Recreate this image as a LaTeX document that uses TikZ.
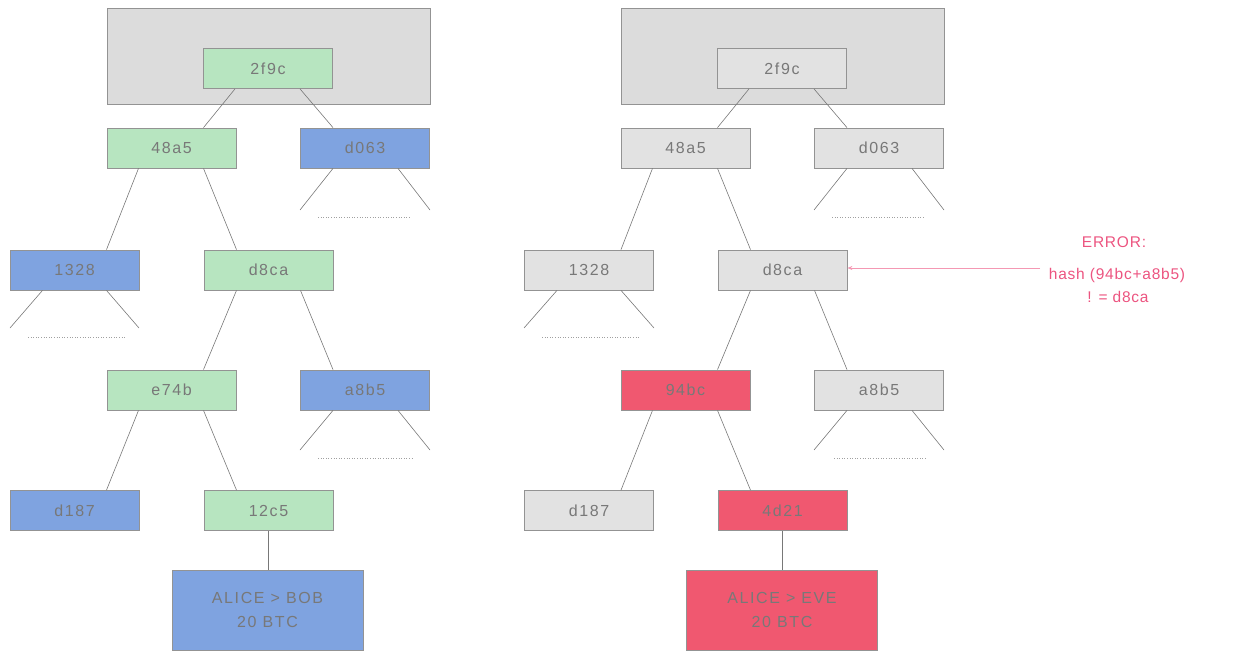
\documentclass[tikz,border=0pt]{standalone}
\usepackage{fontspec}
\setmainfont{Liberation Sans}
\newfontfamily\spaced[LetterSpace=10]{Liberation Sans}
\newfontfamily\spacedb[LetterSpace=5]{Liberation Sans}
\usetikzlibrary{arrows.meta}
\definecolor{grn}{RGB}{183,229,192}
\definecolor{blu}{RGB}{127,163,224}
\definecolor{gry}{RGB}{226,226,226}
\definecolor{bgg}{RGB}{220,220,220}
\definecolor{rd}{RGB}{240,88,112}
\definecolor{pk}{RGB}{236,84,128}
\definecolor{txt}{RGB}{120,120,120}
\definecolor{edge}{RGB}{120,120,120}
\begin{document}
\begin{tikzpicture}[x=1pt,y=-1pt,
  hbox/.style={draw=edge!80,line width=0.8pt,minimum width=129pt,minimum height=40pt,inner sep=0pt,text=txt,font=\spaced\fontsize{16}{18}\selectfont},
  big/.style={hbox,minimum width=191pt,minimum height=80pt,align=center,font=\spaced\fontsize{16}{24}\selectfont},
  g/.style={hbox,fill=grn},
  b/.style={hbox,fill=blu},
  w/.style={hbox,fill=gry},
  r/.style={hbox,fill=rd},
  link/.style={draw=edge,line width=0.6pt},
  dots/.style={draw=edge!70,line width=0.6pt,dotted},
  note/.style={text=pk,font=\spacedb\fontsize{15.5}{17}\selectfont,inner sep=0pt},
  panel/.style={draw=edge!80,line width=0.8pt,fill=bgg}]
\useasboundingbox (0,0) rectangle (1243,653);
% ---------------- left tree ----------------
\node[panel,minimum width=323pt,minimum height=96pt,inner sep=0pt] (Lpanel) at (268.5,56) {};
\node[g] (L2f9c) at (268,68.5) {2f9c};
\node[g] (L48a5) at (171.5,148) {48a5};
\node[b] (Ld063) at (365,148) {d063};
\node[b] (L1328) at (74.5,270) {1328};
\node[g] (Ld8ca) at (268.5,270) {d8ca};
\node[g] (Le74b) at (171.5,390) {e74b};
\node[b] (La8b5) at (365,390) {a8b5};
\node[b] (Ld187) at (74.5,510.5) {d187};
\node[g] (L12c5) at (268.5,510.5) {12c5};
\node[big,fill=blu] (Ltx) at (267.5,610) {ALICE > BOB\\20 BTC};
\coordinate (Ld063a) at (300,210); \coordinate (Ld063b) at (430,210);
\coordinate (L1328a) at (10,328); \coordinate (L1328b) at (139,328);
\coordinate (La8b5a) at (300,450); \coordinate (La8b5b) at (430,450);
\draw[link] ([xshift=-33pt]L2f9c.south) -- ([xshift=32pt]L48a5.north);
\draw[link] ([xshift=32pt]L2f9c.south) -- ([xshift=-32pt]Ld063.north);
\draw[link] ([xshift=-33pt]L48a5.south) -- ([xshift=32pt]L1328.north);
\draw[link] ([xshift=32pt]L48a5.south) -- ([xshift=-32pt]Ld8ca.north);
\draw[link] ([xshift=-32pt]Ld063.south) -- (Ld063a);
\draw[link] ([xshift=33pt]Ld063.south) -- (Ld063b);
\draw[dots] (318,217) -- (410,217);
\draw[link] ([xshift=-32pt]L1328.south) -- (L1328a);
\draw[link] ([xshift=32pt]L1328.south) -- (L1328b);
\draw[dots] (28,337) -- (125,337);
\draw[link] ([xshift=-32pt]Ld8ca.south) -- ([xshift=32pt]Le74b.north);
\draw[link] ([xshift=32pt]Ld8ca.south) -- ([xshift=-32pt]La8b5.north);
\draw[link] ([xshift=-32pt]La8b5.south) -- (La8b5a);
\draw[link] ([xshift=33pt]La8b5.south) -- (La8b5b);
\draw[dots] (318,458) -- (412,458);
\draw[link] ([xshift=-33pt]Le74b.south) -- ([xshift=32pt]Ld187.north);
\draw[link] ([xshift=32pt]Le74b.south) -- ([xshift=-32pt]L12c5.north);
\draw[link] (L12c5.south) -- (L12c5.south |- Ltx.north);
% ---------------- right tree ----------------
\node[panel,minimum width=323pt,minimum height=96pt,inner sep=0pt] (Rpanel) at (782.5,56) {};
\node[w] (R2f9c) at (782,68.5) {2f9c};
\node[w] (R48a5) at (685.5,148) {48a5};
\node[w] (Rd063) at (879,148) {d063};
\node[w] (R1328) at (589,270) {1328};
\node[w] (Rd8ca) at (782.5,270) {d8ca};
\node[r] (R94bc) at (685.5,390) {94bc};
\node[w] (Ra8b5) at (879,390) {a8b5};
\node[w] (Rd187) at (589,510.5) {d187};
\node[r] (R4d21) at (782.5,510.5) {4d21};
\node[big,fill=rd] (Rtx) at (782,610) {ALICE > EVE\\20 BTC};
\coordinate (Rd063a) at (814,210); \coordinate (Rd063b) at (944,210);
\coordinate (R1328a) at (524,328); \coordinate (R1328b) at (654,328);
\coordinate (Ra8b5a) at (814,450); \coordinate (Ra8b5b) at (944,450);
\draw[link] ([xshift=-33pt]R2f9c.south) -- ([xshift=32pt]R48a5.north);
\draw[link] ([xshift=32pt]R2f9c.south) -- ([xshift=-32pt]Rd063.north);
\draw[link] ([xshift=-33pt]R48a5.south) -- ([xshift=32pt]R1328.north);
\draw[link] ([xshift=32pt]R48a5.south) -- ([xshift=-32pt]Rd8ca.north);
\draw[link] ([xshift=-32pt]Rd063.south) -- (Rd063a);
\draw[link] ([xshift=33pt]Rd063.south) -- (Rd063b);
\draw[dots] (832,217) -- (924,217);
\draw[link] ([xshift=-32pt]R1328.south) -- (R1328a);
\draw[link] ([xshift=32pt]R1328.south) -- (R1328b);
\draw[dots] (542,337) -- (640,337);
\draw[link] ([xshift=-32pt]Rd8ca.south) -- ([xshift=32pt]R94bc.north);
\draw[link] ([xshift=32pt]Rd8ca.south) -- ([xshift=-32pt]Ra8b5.north);
\draw[link] ([xshift=-32pt]Ra8b5.south) -- (Ra8b5a);
\draw[link] ([xshift=33pt]Ra8b5.south) -- (Ra8b5b);
\draw[dots] (834,458) -- (926,458);
\draw[link] ([xshift=-33pt]R94bc.south) -- ([xshift=32pt]Rd187.north);
\draw[link] ([xshift=32pt]R94bc.south) -- ([xshift=-32pt]R4d21.north);
\draw[link] (R4d21.south) -- (R4d21.south |- Rtx.north);
% ---------------- error note ----------------
\node[note] (errA) at (1114,242) {ERROR:};
\node[note] (errB) at (1117,275) {hash (94bc+a8b5)};
\node[note] (errC) at (1118,297) {! = d8ca};
\coordinate (errtail) at (1040,268);
\draw[pk!60,line width=0.8pt,-{Stealth[length=5pt,width=4pt]}] (errtail) -- (Rd8ca.east |- errtail);
\end{tikzpicture}
\end{document}
